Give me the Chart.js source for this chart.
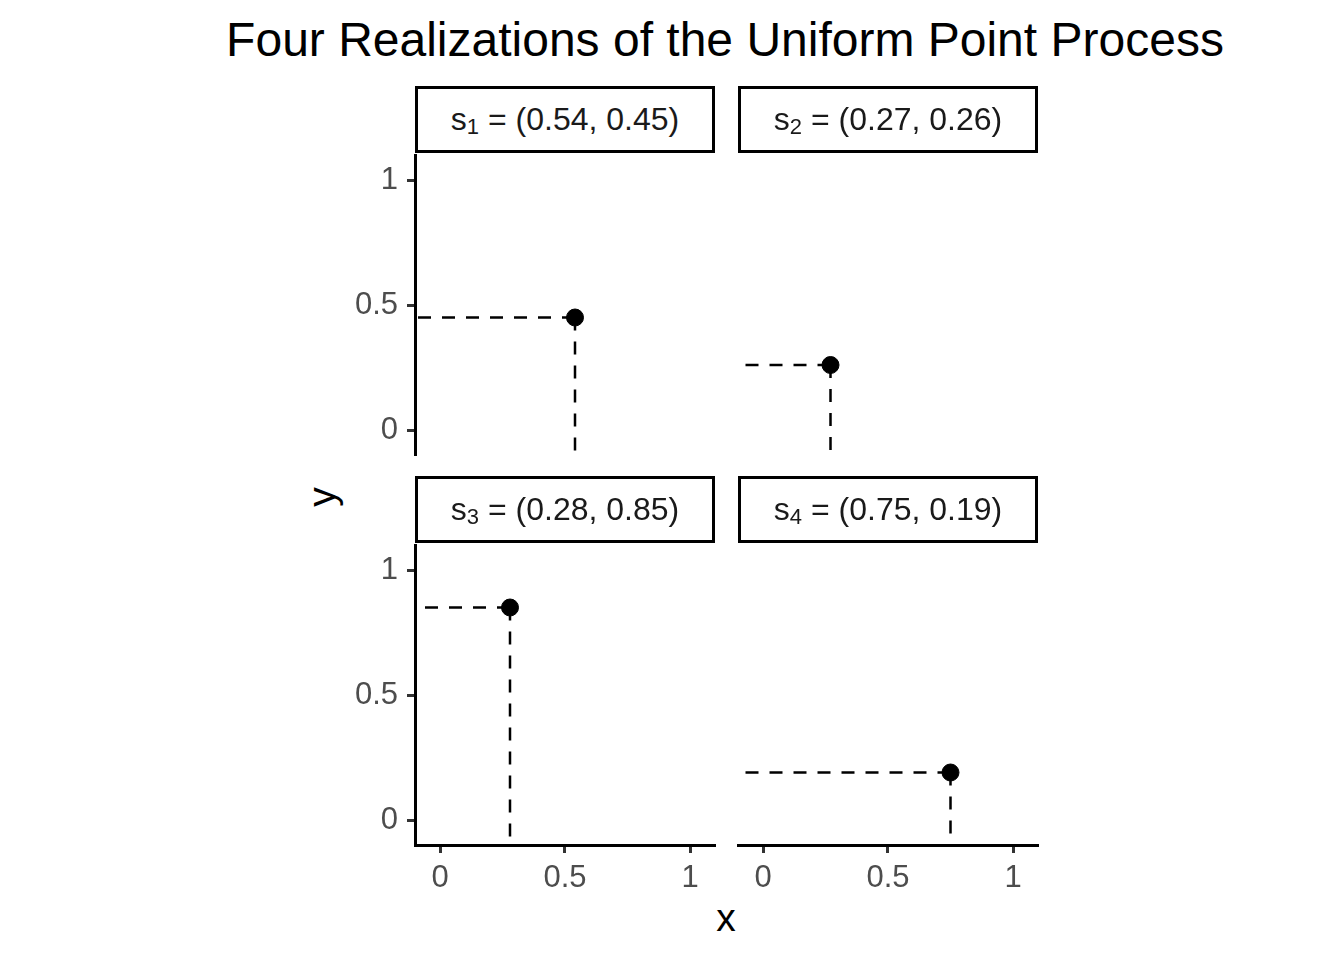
<!DOCTYPE html>
<html>
<head>
<meta charset="utf-8">
<script src="https://cdn.jsdelivr.net/npm/chart.js@4.4.1/dist/chart.umd.min.js"></script>
<style>
    body { margin: 0; width: 1344px; height: 960px; background: #fff; position: relative; overflow: hidden;
           font-family: "Liberation Sans", Arial, sans-serif; }
    canvas { position: absolute; }
    .strip { position: absolute; box-sizing: border-box; width: 300px; height: 67px; border: 3px solid #000;
             display: flex; align-items: center; justify-content: center; font-size: 32px; color: #1a1a1a; }
    .strip sub { font-size: 22px; position: relative; top: 7px; vertical-align: baseline; line-height: 0; }
    .label { position: absolute; white-space: nowrap; color: #000; }
</style>
</head>
<body>
<div class="label" id="title" style="left:725px; top:39px; transform:translate(-50%,-50%); font-size:48px;">Four Realizations of the Uniform Point Process</div>
<div class="label" style="left:322px; top:497px; transform:translate(-50%,-50%) rotate(-90deg); font-size:39px;">y</div>
<div class="label" style="left:726px; top:918px; transform:translate(-50%,-50%); font-size:39px;">x</div>

<script>
// the four sampled points, one per panel
const panelNames = ['1', '2', '3', '4'];
const pointX = [0.54, 0.27, 0.28, 0.75];
const pointY = [0.45, 0.26, 0.85, 0.19];

// shared axis range and ticks
const axisMin = -0.1;
const axisMax = 1.1;
const tickValues = [0, 0.5, 1];
const tickLabels = ['0', '0.5', '1'];

// panel layout (chart area corners), facet grid 2 x 2
const panels = [
    { left: 415, top: 155, showY: true,  showX: false },
    { left: 738, top: 155, showY: false, showX: false },
    { left: 415, top: 545, showY: true,  showX: true },
    { left: 738, top: 545, showY: false, showX: true }
];
const size = 300;
const axisW = 90;   // room kept for y tick labels
const axisH = 60;   // room kept for x tick labels
const pad = 40;

function makeScale(show, vertical) {
    return {
        type: 'linear',
        display: show,
        min: axisMin,
        max: axisMax,
        afterBuildTicks: (scale) => { scale.ticks = tickValues.map(v => ({ value: v })); },
        afterFit: (scale) => {
            if (!show) return;
            if (vertical) scale.width = axisW; else scale.height = axisH;
        },
        ticks: {
            callback: (v, i) => tickLabels[i],
            color: '#4d4d4d',
            font: { family: 'Liberation Sans', size: 31 },
            padding: vertical ? 9 : 7
        },
        grid: { display: true, drawOnChartArea: false, drawTicks: true, tickLength: 8, tickWidth: 3, tickColor: '#333' },
        border: { display: true, color: '#000', width: 3 }
    };
}

panels.forEach((p, i) => {
    // strip label above the panel
    const strip = document.createElement('div');
    strip.className = 'strip';
    strip.style.left = p.left + 'px';
    strip.style.top = (p.top - 69) + 'px';
    strip.innerHTML = `s<sub>${panelNames[i]}</sub>&nbsp;= (${pointX[i].toFixed(2)}, ${pointY[i].toFixed(2)})`;
    document.body.appendChild(strip);

    const canvas = document.createElement('canvas');
    canvas.width = axisW + size + pad;
    canvas.height = pad + size + axisH;
    canvas.style.left = (p.left - axisW) + 'px';
    canvas.style.top = (p.top - pad) + 'px';
    document.body.appendChild(canvas);

    const x = pointX[i];
    const y = pointY[i];

    new Chart(canvas.getContext('2d'), {
        type: 'scatter',
        data: {
            datasets: [
                {
                    data: [{ x: x, y: y }],
                    backgroundColor: '#000',
                    borderColor: '#000',
                    pointRadius: 8.5,
                    order: 0
                },
                {
                    data: [{ x: x, y: y }, { x: axisMin, y: y }],
                    showLine: true,
                    borderColor: '#000',
                    borderWidth: 2.5,
                    borderDash: [13, 11],
                    pointRadius: 0,
                    order: 1
                },
                {
                    data: [{ x: x, y: y }, { x: x, y: axisMin }],
                    showLine: true,
                    borderColor: '#000',
                    borderWidth: 2.5,
                    borderDash: [13, 11],
                    pointRadius: 0,
                    order: 1
                }
            ]
        },
        options: {
            responsive: false,
            animation: false,
            devicePixelRatio: 1,
            clip: false,
            layout: {
                padding: {
                    left: p.showY ? 0 : axisW,
                    right: pad,
                    top: pad,
                    bottom: p.showX ? 0 : axisH
                }
            },
            scales: {
                x: makeScale(p.showX, false),
                y: makeScale(p.showY, true)
            },
            plugins: { legend: { display: false }, tooltip: { enabled: false } }
        }
    });
});
</script>
</body>
</html>
